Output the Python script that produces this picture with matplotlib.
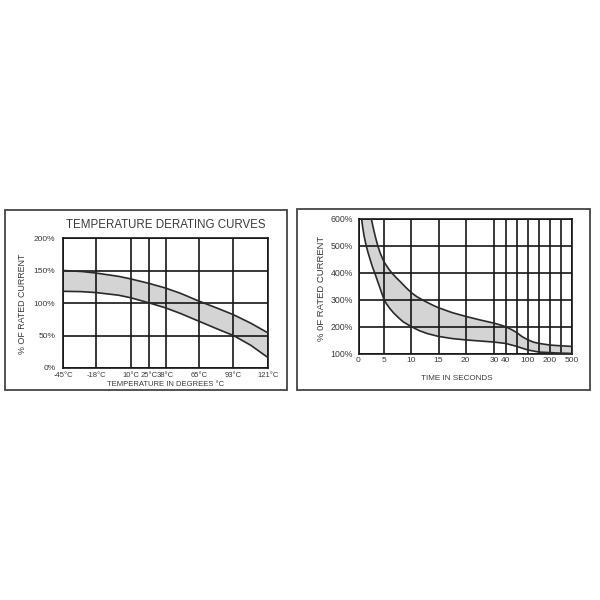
import numpy as np
import matplotlib
matplotlib.use("Agg")
import matplotlib.pyplot as plt
from matplotlib.patches import Rectangle

plt.rcParams['font.family'] = ['Liberation Sans', 'DejaVu Sans']

# ---------------- data: temperature derating ----------------
temp_ticks = [-45, -18, 10, 25, 38, 65, 93, 121]
temp_labels = ['-45°C', '-18°C', '10°C', '25°C', '38°C', '65°C', '93°C', '121°C']
pct_ticks_left = [0, 50, 100, 150, 200]
pct_labels_left = ['0%', '50%', '100%', '150%', '200%']

temp_x = [-45, -30, -18, 0, 10, 25, 38, 50, 65, 80, 93, 107, 121]
temp_upper = [150, 148.5, 146, 141, 137, 130, 123, 115, 103, 92, 82, 69, 54]
temp_lower = [118, 117.5, 116, 112, 108, 100, 92.5, 84, 72, 60, 50, 35, 16]

# ---------------- data: time-current ----------------
time_grid = [0, 5, 10, 15, 20, 30, 40, 60, 100, 150, 200, 300, 500]
time_labeled = [0, 5, 10, 15, 20, 30, 40, 100, 200, 500]
time_labels = ['0', '5', '10', '15', '20', '30', '40', '100', '200', '500']
pct_ticks_right = [100, 200, 300, 400, 500, 600]
pct_labels_right = ['100%', '200%', '300%', '400%', '500%', '600%']

time_up_x = [2.5, 2.9, 3.3, 3.8, 4.3, 5, 5.7, 6.45, 7.3, 8, 9, 10, 11, 12.5, 14, 15,
             17.5, 20, 25, 30, 35, 40, 50, 60, 80, 100, 125, 150, 200, 300, 500]
time_up_y = [600, 565, 533, 498, 470, 440, 418, 398, 380, 366, 345, 326, 311, 294, 279, 270,
             252, 238, 225, 213, 207, 200, 190, 178, 163, 152, 143, 138, 132, 129, 127]
time_lo_x = [0.6, 0.8, 1.1, 1.5, 1.9, 2.3, 2.7, 3.2, 3.8, 4.4, 5, 5.5, 6, 6.7, 7.5, 8.5,
             10, 11.5, 13, 15, 17.5, 20, 25, 30, 40, 60, 100, 150, 200, 300, 500]
time_lo_y = [600, 570, 535, 500, 472, 447, 423, 398, 365, 333, 300, 283, 269, 252, 236, 218,
             200, 185, 174, 164, 156, 151, 147, 143, 138, 127, 114, 106, 104, 102, 101]

# grid-line positions of the printed time axis (relative units)
time_pos = [0, 25.5, 52.8, 80.0, 107.2, 135.5, 147.0, 158.3, 169.0, 180.5, 191.5, 202.8, 213.5]

INK = '#161616'
CURVE = '#2a2a2a'
FILL = '#d4d4d4'
TXT = '#3a3a3a'

fig = plt.figure(figsize=(6, 6), dpi=100)

def fx(px):
    return px / 600.0

def fy(py):
    return (600.0 - py) / 600.0

# outer boxes
for (x0, y0, x1, y1) in [(5, 210, 287, 390), (297, 209, 590, 390)]:
    fig.add_artist(Rectangle((fx(x0), fy(y1)), fx(x1 - x0), (y1 - y0) / 600.0,
                             transform=fig.transFigure, fill=False,
                             edgecolor='#444444', linewidth=1.3))

# ---------------- left chart ----------------
axL = fig.add_axes([fx(63), fy(368), fx(268 - 63), (368 - 238) / 600.0])
axL.fill_between(temp_x, temp_lower, temp_upper, color=FILL, zorder=1, linewidth=0)
axL.plot(temp_x, temp_upper, color=CURVE, lw=1.2, zorder=3)
axL.plot(temp_x, temp_lower, color=CURVE, lw=1.2, zorder=3)
axL.set_xlim(-45, 121)
axL.set_ylim(0, 200)
axL.set_xticks(temp_ticks)
axL.set_xticklabels(temp_labels, fontsize=5.5, color=TXT)
axL.set_yticks(pct_ticks_left)
axL.set_yticklabels(pct_labels_left, fontsize=6.0, color=TXT)
axL.tick_params(length=0, pad=5.5)
axL.tick_params(axis='x', pad=3)
axL.grid(True, color=INK, lw=1.2, zorder=2)
axL.set_axisbelow(False)
for s in axL.spines.values():
    s.set_color(INK)
    s.set_linewidth(1.2)

fig.text(fx(166), fy(225), 'TEMPERATURE DERATING CURVES', fontsize=8.3, color=TXT,
         ha='center', va='center')
fig.text(fx(166), fy(385), 'TEMPERATURE IN DEGREES °C', fontsize=5.5, color=TXT,
         ha='center', va='center')
fig.text(fx(23), fy(304), '% OF RATED CURRENT', fontsize=6.4, color=TXT,
         ha='center', va='center', rotation=90)

# ---------------- right chart ----------------
def fwd(t):
    return np.interp(t, time_grid, time_pos)

def inv(p):
    return np.interp(p, time_pos, time_grid)

axR = fig.add_axes([fx(358.5), fy(353.7), fx(572 - 358.5), (353.7 - 218.5) / 600.0])
axR.set_xscale('function', functions=(fwd, inv))
poly_x = list(time_up_x) + list(time_lo_x[::-1])
poly_y = list(time_up_y) + list(time_lo_y[::-1])
axR.fill(poly_x, poly_y, color=FILL, zorder=1, linewidth=0)
axR.plot(time_up_x, time_up_y, color=CURVE, lw=1.2, zorder=3)
axR.plot(time_lo_x, time_lo_y, color=CURVE, lw=1.2, zorder=3)
axR.set_xlim(0, 500)
axR.set_ylim(100, 600)
axR.set_xticks(time_labeled)
axR.set_xticklabels(time_labels, fontsize=6, color=TXT)
axR.set_xticks([t for t in time_grid if t not in time_labeled], minor=True)
axR.set_yticks(pct_ticks_right)
axR.set_yticklabels(pct_labels_right, fontsize=6.3, color=TXT)
axR.tick_params(which='both', length=0)
axR.tick_params(axis='y', pad=4)
axR.tick_params(axis='x', pad=2.5)
axR.grid(True, which='both', color=INK, lw=1.2, zorder=2)
axR.set_axisbelow(False)
for s in axR.spines.values():
    s.set_color(INK)
    s.set_linewidth(1.2)

fig.text(fx(457), fy(378), 'TIME IN SECONDS', fontsize=5.9, color=TXT,
         ha='center', va='center')
fig.text(fx(322), fy(288), '% 0F RATED CURRENT', fontsize=6.8, color=TXT,
         ha='center', va='center', rotation=90)

fig.savefig('out.png', dpi=100, facecolor='white')
